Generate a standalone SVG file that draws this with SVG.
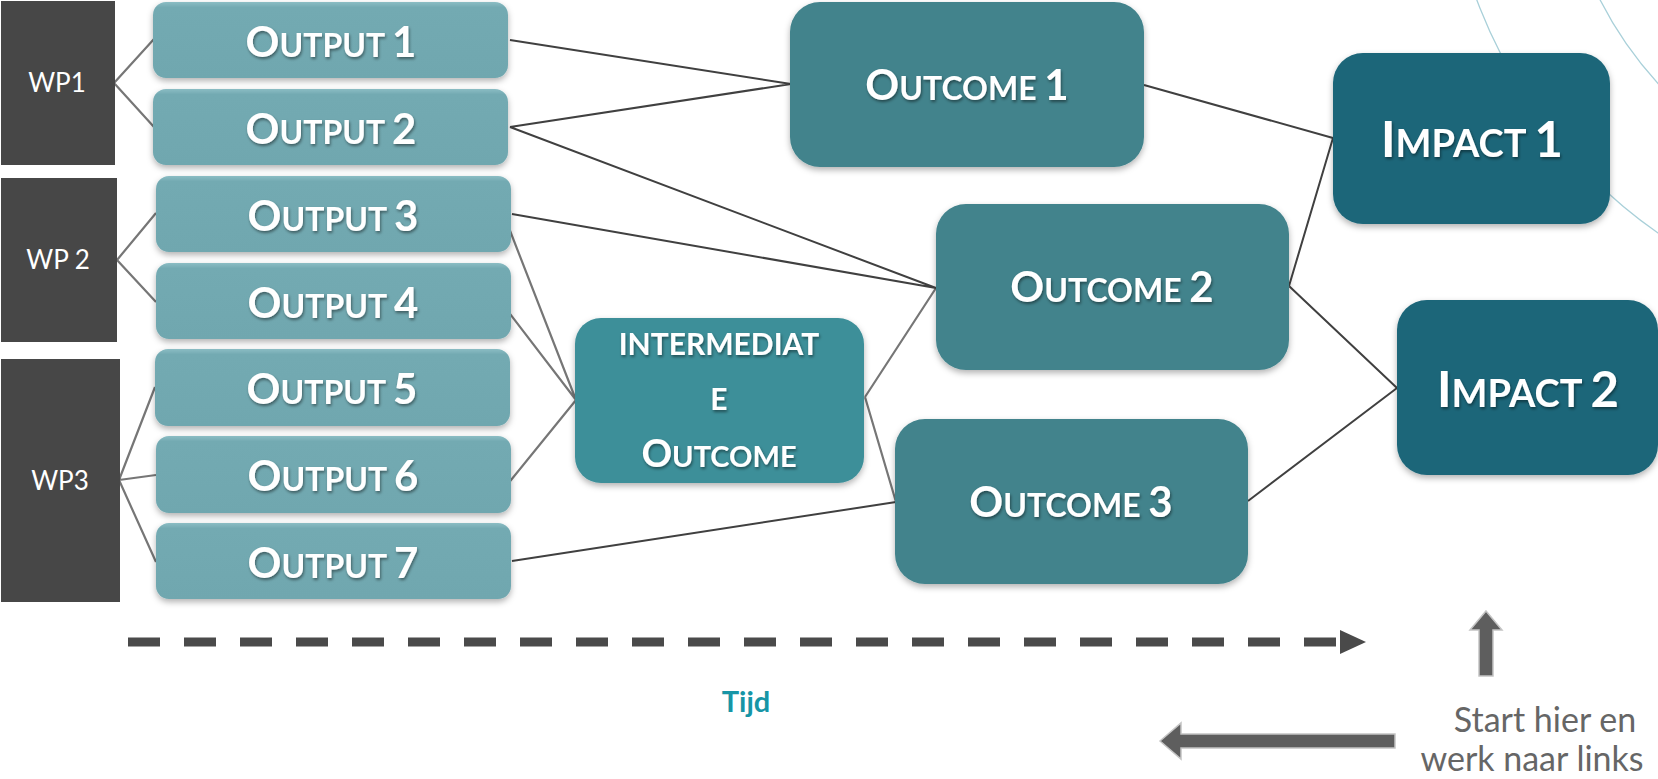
<svg xmlns="http://www.w3.org/2000/svg" width="1658" height="779" viewBox="0 0 1658 779">
<style>
.wp{fill:#474747}
.wpt{font-family:Lato,"Liberation Sans",sans-serif;font-size:26px;fill:#fff;text-anchor:middle}
.out{fill:url(#gOut);filter:url(#sh)}
.oc{fill:#42838c;filter:url(#sh)}
.im{fill:#3e8f99;filter:url(#sh)}
.ip{fill:#1b6679;filter:url(#sh)}
.lbl{font-family:Lato,"Liberation Sans",sans-serif;font-weight:bold;fill:#fff;text-anchor:middle;filter:url(#tsh)}
.b42{font-size:42px}.s32{font-size:32px}
.b49{font-size:49px}.s38{font-size:38px}
.dk{stroke:#404040;stroke-width:2;fill:none}
.gr{stroke:#767676;stroke-width:2.2;fill:none}
.arc{stroke:#a9d0d9;stroke-width:1.3;fill:none}
.note{font-family:Lato,"Liberation Sans",sans-serif;font-size:34px;fill:#666;text-anchor:middle}
</style>
<defs>
<linearGradient id="gOut" x1="0" y1="0" x2="0" y2="1">
<stop offset="0" stop-color="#8bbdc4"/><stop offset="0.07" stop-color="#73aab2"/><stop offset="1" stop-color="#70a7af"/>
</linearGradient>
<filter id="sh" x="-10%" y="-10%" width="120%" height="130%">
<feDropShadow dx="0" dy="3" stdDeviation="3" flood-color="#000" flood-opacity="0.3"/>
</filter>
<filter id="tsh" x="-10%" y="-20%" width="120%" height="150%">
<feDropShadow dx="1" dy="2" stdDeviation="1.5" flood-color="#000" flood-opacity="0.45"/>
</filter>
</defs>
<rect width="1658" height="779" fill="#fff"/>
<g id="background-arcs">
<circle class="arc" cx="1942" cy="-175" r="497"/>
<circle class="arc" cx="1942" cy="-175" r="384"/>
</g>
<g id="connectors">
<path class="gr" d="M114,83 L154,39 M114,83 L154,127 M117,260 L156,213 M117,260 L156,302 M119,480 L155,387 M119,480 L156,475 M119,480 L156,562"/>
<path class="gr" d="M507,223 L576,400 M507,310 L576,400 M507,485 L576,400 M865,397 L936,288 M865,397 L896,502"/>
<path class="dk" d="M510,40 L791,84 M510,127 L791,84 M510,127 L936,288 M512,214 L936,288 M512,561 L896,502 M1144,85 L1333,138 M1289,286 L1333,138 M1289,286 L1397,388 M1248,501 L1397,388"/>
</g>
<g id="wp1"><rect class="wp" x="1" y="1" width="114" height="164"/><text class="wpt" x="57" y="92">WP1</text></g>
<g id="wp2"><rect class="wp" x="1" y="178" width="116" height="164"/><text class="wpt" x="58" y="269">WP 2</text></g>
<g id="wp3"><rect class="wp" x="1" y="359" width="119" height="243"/><text class="wpt" x="60" y="490">WP3</text></g>
<g id="output1"><rect class="out" x="153" y="2" width="355" height="76" rx="13"/><text class="lbl" x="331" y="57"><tspan class="b42">O</tspan><tspan class="s32">UTPUT </tspan><tspan class="b42">1</tspan></text></g>
<g id="output2"><rect class="out" x="153" y="89" width="355" height="76" rx="13"/><text class="lbl" x="331" y="144"><tspan class="b42">O</tspan><tspan class="s32">UTPUT </tspan><tspan class="b42">2</tspan></text></g>
<g id="output3"><rect class="out" x="156" y="176" width="355" height="76" rx="13"/><text class="lbl" x="333" y="231"><tspan class="b42">O</tspan><tspan class="s32">UTPUT </tspan><tspan class="b42">3</tspan></text></g>
<g id="output4"><rect class="out" x="156" y="263" width="355" height="76" rx="13"/><text class="lbl" x="333" y="318"><tspan class="b42">O</tspan><tspan class="s32">UTPUT </tspan><tspan class="b42">4</tspan></text></g>
<g id="output5"><rect class="out" x="155" y="349" width="355" height="77" rx="13"/><text class="lbl" x="332" y="404"><tspan class="b42">O</tspan><tspan class="s32">UTPUT </tspan><tspan class="b42">5</tspan></text></g>
<g id="output6"><rect class="out" x="156" y="436" width="355" height="77" rx="13"/><text class="lbl" x="333" y="491"><tspan class="b42">O</tspan><tspan class="s32">UTPUT </tspan><tspan class="b42">6</tspan></text></g>
<g id="output7"><rect class="out" x="156" y="523" width="355" height="76" rx="13"/><text class="lbl" x="333" y="578"><tspan class="b42">O</tspan><tspan class="s32">UTPUT </tspan><tspan class="b42">7</tspan></text></g>
<g id="intermediate"><rect class="im" x="575" y="318" width="289" height="165" rx="26"/>
<text class="lbl" x="719" y="355" font-size="30px">INTERMEDIAT</text>
<text class="lbl" x="719" y="410" font-size="30px">E</text>
<text class="lbl" x="719" y="467"><tspan font-size="38px">O</tspan><tspan font-size="29px">UTCOME</tspan></text></g>
<g id="outcome1"><rect class="oc" x="790" y="2" width="354" height="165" rx="30"/><text class="lbl" x="967" y="100"><tspan class="b42">O</tspan><tspan class="s32">UTCOME </tspan><tspan class="b42">1</tspan></text></g>
<g id="outcome2"><rect class="oc" x="936" y="204" width="353" height="166" rx="30"/><text class="lbl" x="1112" y="302"><tspan class="b42">O</tspan><tspan class="s32">UTCOME </tspan><tspan class="b42">2</tspan></text></g>
<g id="outcome3"><rect class="oc" x="895" y="419" width="353" height="165" rx="30"/><text class="lbl" x="1071" y="517"><tspan class="b42">O</tspan><tspan class="s32">UTCOME </tspan><tspan class="b42">3</tspan></text></g>
<g id="impact1"><rect class="ip" x="1333" y="53" width="277" height="171" rx="30"/><text class="lbl" x="1472" y="157"><tspan class="b49">I</tspan><tspan class="s38">MPACT </tspan><tspan class="b49">1</tspan></text></g>
<g id="impact2"><rect class="ip" x="1397" y="300" width="261" height="175" rx="30"/><text class="lbl" x="1528" y="407"><tspan class="b49">I</tspan><tspan class="s38">MPACT </tspan><tspan class="b49">2</tspan></text></g>
<g id="time-arrow">
<line x1="128" y1="642" x2="1336" y2="642" stroke="#4a4a4a" stroke-width="9" stroke-dasharray="32 24"/>
<polygon points="1340,630 1366,642 1340,654" fill="#4a4a4a"/>
<text x="746" y="712" font-family="Lato,'Liberation Sans',sans-serif" font-weight="bold" font-size="29px" fill="#1795a6" text-anchor="middle">Tijd</text>
</g>
<g id="start-note">
<polygon points="1486,611 1502,630 1493,630 1493,676 1479,676 1479,630 1470,630" fill="#5e5e5e" stroke="#c4c4c4" stroke-width="1.5"/>
<polygon points="1160,741 1181,723 1181,734 1395,734 1395,748 1181,748 1181,759" fill="#5e5e5e" stroke="#c4c4c4" stroke-width="1.5"/>
<text class="note" x="1545" y="732">Start hier en</text>
<text class="note" x="1532" y="771">werk naar links</text>
</g>
</svg>
